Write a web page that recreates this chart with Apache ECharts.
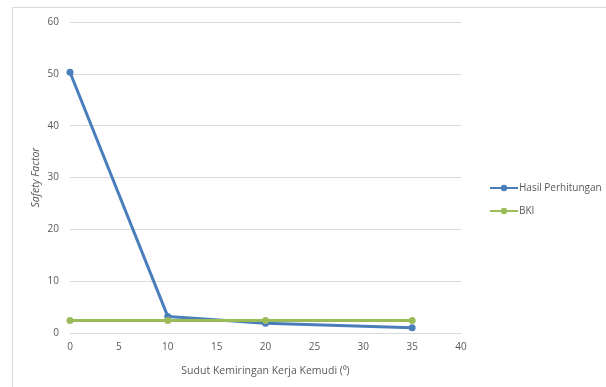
<!DOCTYPE html>
<html>
<head>
<meta charset="utf-8">
<style>
  html, body { margin: 0; padding: 0; background: #fff; }
  #frame { position: absolute; left: 12px; top: 7px; width: 600px; height: 400px;
           border-left: 1px solid #d9d9d9; border-top: 1px solid #d9d9d9; }
  #chart { position: absolute; left: 0; top: 0; width: 606px; height: 387px; }
</style>
<script src="https://cdn.jsdelivr.net/npm/echarts@6/dist/echarts.min.js"></script>
</head>
<body>
<div id="frame"></div>
<div id="chart"></div>
<script>
// Steering tilt angle (degrees) and safety factors
const angles = [0, 10, 20, 35];
const hasilPerhitungan = [50.3, 3.2, 1.9, 1.0];
const bki = [2.4, 2.4, 2.4, 2.4];
const xTicks = { min: 0, max: 40, interval: 5 };
const yTicks = { min: 0, max: 60, interval: 10 };

const font = 'Open Sans, Liberation Sans, sans-serif';
const pairs = (xs, ys) => xs.map((x, i) => [x, ys[i]]);

const chart = echarts.init(document.getElementById('chart'), null, { renderer: 'canvas' });
chart.setOption({
  animation: false,
  textStyle: { fontFamily: font },
  grid: { left: 70, right: 145, top: 22, bottom: 54, containLabel: false },
  legend: {
    orient: 'vertical',
    left: 484, top: 178,
    itemWidth: 28, itemHeight: 8, itemGap: 13,
    textStyle: { color: '#595959', fontSize: 10, fontFamily: font, padding: [0, 0, 0, -4] },
    data: ['Hasil Perhitungan', 'BKI']
  },
  xAxis: {
    type: 'value',
    min: xTicks.min, max: xTicks.max, interval: xTicks.interval,
    name: 'Sudut Kemiringan Kerja Kemudi (\u2070)',
    nameLocation: 'middle', nameGap: 33, nameMoveOverlap: false,
    nameTextStyle: { color: '#595959', fontSize: 10.5, fontFamily: font },
    axisLine: { show: true, lineStyle: { color: '#d9d9d9' } },
    axisTick: { show: false },
    axisLabel: { color: '#595959', fontSize: 10, margin: 9 },
    splitLine: { show: false }
  },
  yAxis: {
    type: 'value',
    min: yTicks.min, max: yTicks.max, interval: yTicks.interval,
    name: 'Safety Factor',
    nameLocation: 'middle', nameGap: 28, nameMoveOverlap: false,
    nameTextStyle: { color: '#595959', fontSize: 10.5, fontStyle: 'italic', fontFamily: font },
    axisLine: { show: false },
    axisTick: { show: false },
    axisLabel: { color: '#595959', fontSize: 10, margin: 11 },
    splitLine: { lineStyle: { color: '#d9d9d9', width: 1 } }
  },
  series: [
    {
      name: 'Hasil Perhitungan', type: 'line',
      data: pairs(angles, hasilPerhitungan),
      symbol: 'circle', symbolSize: 7,
      itemStyle: { color: '#4a7ebb' },
      lineStyle: { color: '#4a7ebb', width: 3 }
    },
    {
      name: 'BKI', type: 'line',
      data: pairs(angles, bki),
      symbol: 'circle', symbolSize: 7,
      itemStyle: { color: '#9bbb59' },
      lineStyle: { color: '#9bbb59', width: 3 }
    }
  ]
});
</script>
</body>
</html>
